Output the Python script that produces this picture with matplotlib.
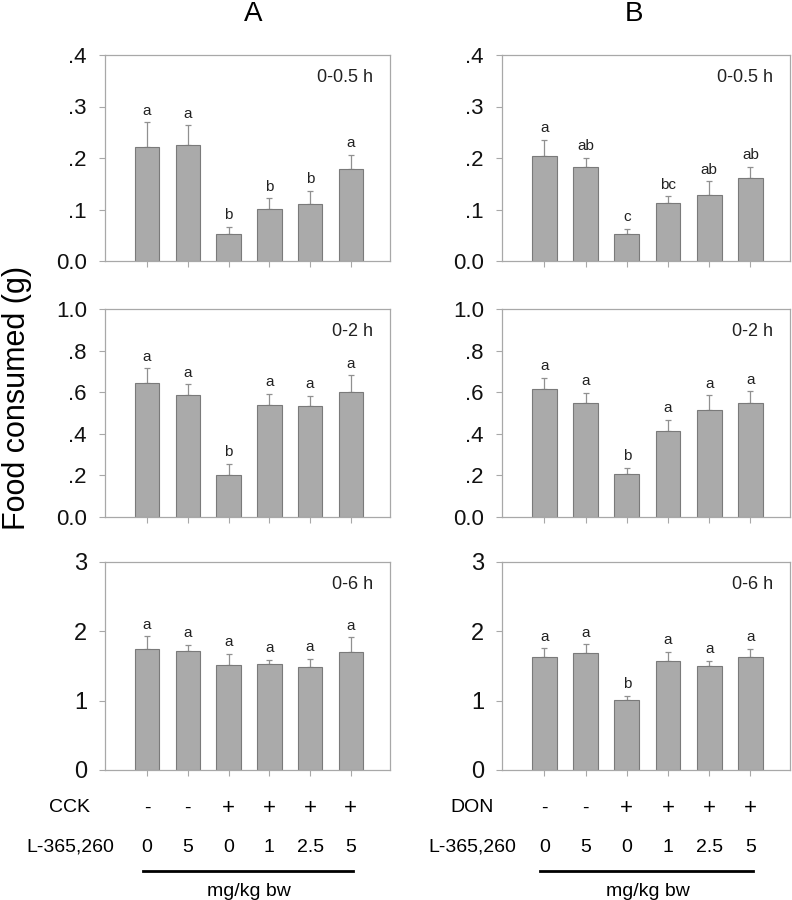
import matplotlib
matplotlib.use("Agg")
import matplotlib.pyplot as plt
from matplotlib.transforms import blended_transform_factory
from matplotlib.lines import Line2D

plt.rcParams['font.family'] = ['Liberation Sans', 'DejaVu Sans']

# ---- data ----
groups = ["1", "2", "3", "4", "5", "6"]
treat_A = ["-", "-", "+", "+", "+", "+"]
treat_B = ["-", "-", "+", "+", "+", "+"]
dose_labels = ["0", "5", "0", "1", "2.5", "5"]

A_05_mean = [0.221, 0.226, 0.053, 0.101, 0.111, 0.178]
A_05_err = [0.048, 0.038, 0.013, 0.021, 0.025, 0.028]
A_05_let = ["a", "a", "b", "b", "b", "a"]

B_05_mean = [0.203, 0.183, 0.053, 0.112, 0.128, 0.162]
B_05_err = [0.032, 0.017, 0.010, 0.014, 0.027, 0.021]
B_05_let = ["a", "ab", "c", "bc", "ab", "ab"]

A_2_mean = [0.646, 0.586, 0.203, 0.537, 0.534, 0.600]
A_2_err = [0.068, 0.053, 0.054, 0.055, 0.048, 0.082]
A_2_let = ["a", "a", "b", "a", "a", "a"]

B_2_mean = [0.614, 0.549, 0.206, 0.412, 0.513, 0.549]
B_2_err = [0.054, 0.049, 0.030, 0.056, 0.073, 0.056]
B_2_let = ["a", "a", "b", "a", "a", "a"]

A_6_mean = [1.748, 1.715, 1.513, 1.536, 1.488, 1.701]
A_6_err = [0.178, 0.091, 0.159, 0.053, 0.112, 0.216]
A_6_let = ["a", "a", "a", "a", "a", "a"]

B_6_mean = [1.628, 1.691, 1.007, 1.575, 1.498, 1.623]
B_6_err = [0.130, 0.125, 0.062, 0.126, 0.081, 0.125]
B_6_let = ["a", "a", "b", "a", "a", "a"]

time_labels = ["0-0.5 h", "0-2 h", "0-6 h"]
yticks_rows = [[0.0, 0.1, 0.2, 0.3, 0.4],
               [0.0, 0.2, 0.4, 0.6, 0.8, 1.0],
               [0, 1, 2, 3]]
yticklabels_rows = [["0.0", ".1", ".2", ".3", ".4"],
                    ["0.0", ".2", ".4", ".6", ".8", "1.0"],
                    ["0", "1", "2", "3"]]
ylims = [0.4, 1.0, 3.0]

W, H = 792, 900
fig = plt.figure(figsize=(W / 100, H / 100), dpi=100)

cols = [(105, 390), (502, 790)]
rows = [(55, 261), (309, 517), (562, 770)]

data = {
    (0, 0): (A_05_mean, A_05_err, A_05_let),
    (0, 1): (B_05_mean, B_05_err, B_05_let),
    (1, 0): (A_2_mean, A_2_err, A_2_let),
    (1, 1): (B_2_mean, B_2_err, B_2_let),
    (2, 0): (A_6_mean, A_6_err, A_6_let),
    (2, 1): (B_6_mean, B_6_err, B_6_let),
}

bar_fc = "#aaaaaa"
bar_ec = "#7a7a7a"
spine_c = "#a8a8a8"
err_c = "#909090"

axes = {}
for r, (top, bot) in enumerate(rows):
    for c, (left, right) in enumerate(cols):
        ax = fig.add_axes([left / W, 1 - bot / H, (right - left) / W, (bot - top) / H])
        axes[(r, c)] = ax
        mean, err, let = data[(r, c)]
        x = list(range(len(groups)))
        ax.bar(x, mean, width=0.6, color=bar_fc, edgecolor=bar_ec, linewidth=0.8, zorder=2)
        ax.errorbar(x, mean, yerr=[[0] * len(err), err], fmt="none", ecolor=err_c,
                    elinewidth=0.9, capsize=2.2, capthick=0.9, zorder=1)
        ymax = ylims[r]
        for xi, m, e, l in zip(x, mean, err, let):
            ax.text(xi, m + e + ymax * 0.022, l, ha="center", va="bottom", fontsize=11,
                    color="#222222")
        ax.set_xlim(-1.03, 5.96)
        ax.set_ylim(0, ymax)
        ax.set_xticks(x)
        ax.set_xticklabels([])
        ax.set_yticks(yticks_rows[r])
        ax.set_yticklabels(yticklabels_rows[r], fontsize=16 if r < 2 else 17,
                           color="#111111")
        ax.tick_params(axis="both", direction="out", length=4, width=0.8, color=spine_c,
                       pad=9)
        for s in ax.spines.values():
            s.set_color(spine_c)
            s.set_linewidth(0.9)
        ax.text(0.94, 0.89, time_labels[r], transform=ax.transAxes, ha="right",
                va="center", fontsize=13, color="#222222")

# titles
fig.text(253 / W, 1 - 1 / H, "A", ha="center", va="top", fontsize=20)
fig.text(634 / W, 1 - 1 / H, "B", ha="center", va="top", fontsize=20)

# y label
fig.text(17 / W, 1 - 398 / H, "Food consumed (g)", rotation=90, ha="center",
         va="center", fontsize=22)

# treatment rows below bottom panels
row_names = ["CCK", "DON"]
treats = [treat_A, treat_B]
name_x = [70, 472]
for c in range(2):
    ax = axes[(2, c)]
    tr = blended_transform_factory(ax.transData, fig.transFigure)
    for xi, (t, d) in enumerate(zip(treats[c], dose_labels)):
        ax.text(xi, 1 - 808 / H, t, transform=tr, ha="center", va="center",
                fontsize=16 if t == "+" else 14, clip_on=False)
        ax.text(xi, 1 - 847 / H, d, transform=tr, ha="center", va="center",
                fontsize=14, clip_on=False)
    fig.text(name_x[c] / W, 1 - 808 / H, row_names[c], ha="center", va="center",
             fontsize=14)
    fig.text(name_x[c] / W, 1 - 847 / H, "L-365,260", ha="center", va="center",
             fontsize=14)
    line = Line2D([-0.1, 5.05], [1 - 871 / H, 1 - 871 / H], transform=tr, color="black",
                  linewidth=2, clip_on=False)
    ax.add_line(line)
    ax.text(2.5, 1 - 891 / H, "mg/kg bw", transform=tr, ha="center", va="center",
            fontsize=14, clip_on=False)

fig.savefig("out.png", dpi=100)
